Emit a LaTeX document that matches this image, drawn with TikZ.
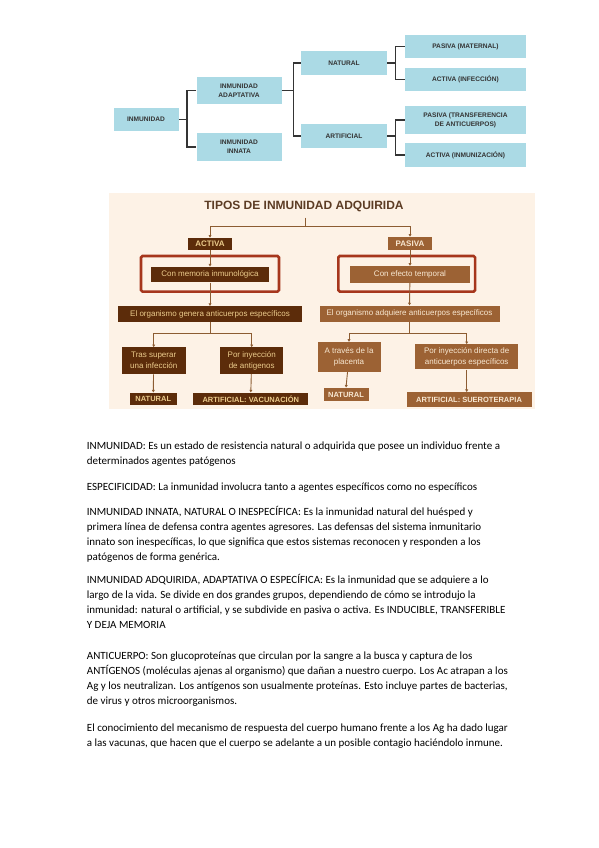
\documentclass[tikz,border=0pt]{standalone}
\usepackage{fontspec}
\setmainfont{Carlito}
\setsansfont{Liberation Sans}
\usetikzlibrary{arrows.meta}
\definecolor{skyfill}{RGB}{171,218,229}
\definecolor{inktop}{RGB}{52,52,52}
\definecolor{cream}{RGB}{253,242,230}
\definecolor{brownA}{RGB}{92,44,10}
\definecolor{brownB}{RGB}{156,98,52}
\definecolor{tanA}{RGB}{236,204,140}
\definecolor{tanB}{RGB}{248,232,210}
\definecolor{linkbrown}{RGB}{140,92,50}
\definecolor{framered}{RGB}{166,54,28}
\definecolor{titlebrown}{RGB}{92,60,36}
\begin{document}
\begin{tikzpicture}[x=1pt,y=-1pt,
  every node/.style={inner sep=0pt},
  skybox/.style={fill=skyfill,text=inktop,align=center,minimum height=23.3pt,
    font=\sffamily\bfseries\fontsize{6.6}{9}\selectfont},
  tree/.style={draw=inktop,line width=1.3pt},
  darkbox/.style={fill=brownA,text=tanA,align=center,font=\sffamily\fontsize{8}{11}\selectfont},
  lightbox/.style={fill=brownB,text=tanB,align=center,font=\sffamily\fontsize{8}{11}\selectfont},
  endbox/.style={font=\sffamily\bfseries\fontsize{7.5}{9}\selectfont},
  redframe/.style={draw=framered,line width=2.6pt,rounded corners=1.5pt},
  link/.style={draw=linkbrown,line width=0.9pt},
  tip/.style={-{Triangle[length=2.6pt,width=2.8pt]}},
  bodytext/.style={anchor=base west,align=left,text=black,font=\fontsize{11}{15}\selectfont}]
\fill[white] (0,0) rectangle (599,848);
\useasboundingbox (0,0) rectangle (599,848);
% clasificacion
\node[skybox,minimum width=65pt] (inm) at (146,119.5) {INMUNIDAD};
\node[skybox,minimum width=85pt,minimum height=27pt] (adapt) at (239,90.8) {INMUNIDAD\\ADAPTATIVA};
\node[skybox,minimum width=85pt,minimum height=27.4pt] (innata) at (239,147) {INMUNIDAD\\INNATA};
\node[skybox,minimum width=85.7pt] (nat) at (344,63) {NATURAL};
\node[skybox,minimum width=85.7pt] (art) at (344,136) {ARTIFICIAL};
\node[skybox,minimum width=121pt] (pmat) at (465.5,46.7) {PASIVA (MATERNAL)};
\node[skybox,minimum width=121pt] (ainf) at (465.5,79.3) {ACTIVA (INFECCIÓN)};
\node[skybox,minimum width=121pt,minimum height=28pt] (ptra) at (465.5,120) {PASIVA (TRANSFERENCIA\\DE ANTICUERPOS)};
\node[skybox,minimum width=121pt] (ainm) at (465.5,155) {ACTIVA (INMUNIZACIÓN)};
\draw[tree] (adapt.west) -- ++(-9.4,0) |- (innata.west);
\draw[tree] (inm.east) -- ++(9.4,0);
\draw[tree] (nat.west) -- ++(-7.7,0) |- (art.west);
\draw[tree] (adapt.east) -- ++(11.6,0);
\draw[tree] (pmat.west) -- ++(-9,0) |- (ainf.west);
\draw[tree] (nat.east) -- ++(9.3,0);
\draw[tree] (ptra.west) -- ++(-9,0) |- (ainm.west);
\draw[tree] (art.east) -- ++(9.3,0);
% tipos de inmunidad adquirida
\fill[cream] (109,193) rectangle (535,409);
\node[text=titlebrown,font=\sffamily\bfseries\fontsize{12}{14}\selectfont] (title) at (304,206) {TIPOS DE INMUNIDAD ADQUIRIDA};
\node[darkbox,font=\sffamily\bfseries\fontsize{8}{10}\selectfont,minimum width=43.3pt,minimum height=12.3pt] (activa) at (210,244) {ACTIVA};
\node[lightbox,font=\sffamily\bfseries\fontsize{8}{10}\selectfont,minimum width=43.3pt,minimum height=13.3pt] (pasiva) at (410,243.5) {PASIVA};
\node[redframe,minimum width=138pt,minimum height=35.7pt] (frameA) at (210,273.8) {};
\node[redframe,minimum width=136.7pt,minimum height=35.7pt] (frameP) at (406.7,273.8) {};
\node[darkbox,minimum width=118.6pt,minimum height=15.6pt] (memoria) at (210,274.5) {Con memoria inmunológica};
\node[lightbox,minimum width=120pt,minimum height=16.7pt] (efecto) at (410,274.3) {Con efecto temporal};
\node[darkbox,minimum width=183.4pt,minimum height=15.7pt] (genera) at (210,314) {El organismo genera anticuerpos específicos};
\node[lightbox,minimum width=180pt,minimum height=16.5pt] (adquiere) at (409.5,313.8) {El organismo adquiere anticuerpos específicos};
\node[darkbox,minimum width=64pt,minimum height=26.7pt] (tras) at (153.7,360.7) {Tras superar\\una infección};
\node[darkbox,minimum width=63.3pt,minimum height=26.7pt] (antig) at (251.7,360.7) {Por inyección\\de antigenos};
\node[lightbox,minimum width=63pt,minimum height=30pt] (placenta) at (349,357) {A través de la\\placenta};
\node[lightbox,minimum width=103pt,minimum height=25pt] (directa) at (466.7,356.8) {Por inyección directa de\\anticuerpos específicos};
\node[darkbox,endbox,minimum width=46.7pt,minimum height=12.3pt] (natA) at (153.3,398.8) {NATURAL};
\node[darkbox,endbox,minimum width=115pt,minimum height=12.3pt] (vacuna) at (250.8,398.8) {ARTIFICIAL: VACUNACIÓN};
\node[lightbox,endbox,minimum width=45pt,minimum height=13.5pt] (natP) at (346,394.5) {NATURAL};
\node[lightbox,endbox,minimum width=125pt,minimum height=14.5pt] (suero) at (469,399.5) {ARTIFICIAL: SUEROTERAPIA};
\coordinate (split) at (305,226);
\coordinate (splitA) at (210,333.3);
\coordinate (splitP) at (409.5,333.3);
\draw[link] (title.south) ++(1,6) -- (split);
\draw[link,tip] (split) -| (activa.north);
\draw[link,tip] (split) -| (pasiva.north);
\draw[link,tip] (activa) -- (memoria.north);
\draw[link,tip] (pasiva) -- (efecto.north);
\draw[link,tip] (memoria) -- (genera.north);
\draw[link,tip] (efecto) -- (adquiere.north);
\draw[link] (genera) -- (splitA);
\draw[link] (adquiere) -- (splitP);
\draw[link,tip] (splitA) -| (tras.north);
\draw[link,tip] (splitA) -| (antig.north);
\draw[link,tip] (splitP) -| (placenta.north);
\draw[link,tip] (splitP) -| (directa.north);
\draw[link,tip] (tras) -- (natA.north);
\draw[link,tip] (antig) -- (vacuna.north);
\draw[link,tip] (placenta) -- (natP.north);
\draw[link,tip] (directa) -- (suero.north -| directa);
% definiciones
\node[bodytext] (pInm) at (86.7,464) {INMUNIDAD: Es un estado de resistencia natural o adquirida que posee un individuo frente a\\determinados agentes patógenos};
\node[bodytext] (pEsp) at (86.7,490) {ESPECIFICIDAD: La inmunidad involucra tanto a agentes específicos como no específicos};
\node[bodytext] (pInn) at (86.7,560) {INMUNIDAD INNATA, NATURAL O INESPECÍFICA: Es la inmunidad natural del huésped y\\primera línea de defensa contra agentes agresores. Las defensas del sistema inmunitario\\innato son inespecíficas, lo que significa que estos sistemas reconocen y responden a los\\patógenos de forma genérica.};
\node[bodytext] (pAdq) at (86.7,628.3) {INMUNIDAD ADQUIRIDA, ADAPTATIVA O ESPECÍFICA: Es la inmunidad que se adquiere a lo\\largo de la vida. Se divide en dos grandes grupos, dependiendo de cómo se introdujo la\\inmunidad: natural o artificial, y se subdivide en pasiva o activa. Es INDUCIBLE, TRANSFERIBLE\\Y DEJA MEMORIA};
\node[bodytext] (pAnt) at (86.7,704.3) {ANTICUERPO: Son glucoproteínas que circulan por la sangre a la busca y captura de los\\ANTÍGENOS (moléculas ajenas al organismo) que dañan a nuestro cuerpo. Los Ac atrapan a los\\Ag y los neutralizan. Los antígenos son usualmente proteínas. Esto incluye partes de bacterias,\\de virus y otros microorganismos.};
\node[bodytext] (pVac) at (86.7,746) {El conocimiento del mecanismo de respuesta del cuerpo humano frente a los Ag ha dado lugar\\a las vacunas, que hacen que el cuerpo se adelante a un posible contagio haciéndolo inmune.};
\end{tikzpicture}
\end{document}
